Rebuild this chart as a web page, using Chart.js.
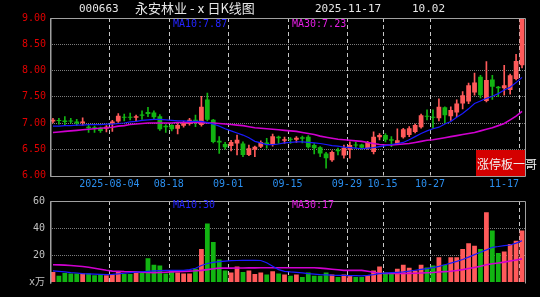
<!DOCTYPE html>
<html>
<head>
<meta charset="utf-8">
<script src="https://cdn.jsdelivr.net/npm/chart.js@4.4.0/dist/chart.umd.min.js"></script>
<style>
	html, body { margin: 0; padding: 0; background: #000; width: 540px; height: 297px; overflow: hidden; }
	#wrap { position: relative; width: 540px; height: 297px; }
	canvas { position: absolute; left: 0; }
	.t { position: absolute; white-space: nowrap; line-height: 14px; height: 14px; }
	.mono { font-family: "DejaVu Sans Mono", monospace; }
	.cjk { font-family: "Noto Sans CJK SC", sans-serif; }
</style>
</head>
<body>
<div id="wrap">
	<canvas id="kChart" width="540" height="190" style="top:0"></canvas>
	<canvas id="volChart" width="540" height="107" style="top:190px"></canvas>

	<div class="t mono" style="left:79px;top:2px;font-size:11px;color:#e6e6e6">000663</div>
	<div class="t cjk" style="left:135px;top:1px;font-size:13px;color:#e6e6e6">永安林业 -ⅹ日K线图</div>
	<div class="t mono" style="left:315px;top:2px;font-size:11px;color:#e6e6e6">2025-11-17</div>
	<div class="t mono" style="left:412px;top:2px;font-size:11px;color:#e6e6e6">10.02</div>

	<div class="t mono" style="left:173px;top:17px;font-size:10px;color:#2424ff">MA10:7.87</div>
	<div class="t mono" style="left:292px;top:17px;font-size:10px;color:#e61ee6">MA30:7.23</div>
	<div class="t mono" style="left:173px;top:198px;font-size:10px;color:#2424ff">MA10:30</div>
	<div class="t mono" style="left:292px;top:198px;font-size:10px;color:#e61ee6">MA30:17</div>

	<div style="position:absolute;left:476px;top:150px;width:49px;height:26px;background:#d40000"></div>
	<div class="t cjk" style="left:477px;top:157px;font-size:12px;color:#f0f0f0">涨停板一哥</div>
</div>

<script>
// data
const dates = [
	'2025-07-21','2025-07-22','2025-07-23','2025-07-24','2025-07-25','2025-07-28','2025-07-29','2025-07-30','2025-07-31','2025-08-01',
	'2025-08-04','2025-08-05','2025-08-06','2025-08-07','2025-08-08','2025-08-11','2025-08-12','2025-08-13','2025-08-14','2025-08-15',
	'2025-08-18','2025-08-19','2025-08-20','2025-08-21','2025-08-22','2025-08-25','2025-08-26','2025-08-27','2025-08-28','2025-08-29',
	'2025-09-01','2025-09-02','2025-09-03','2025-09-04','2025-09-05','2025-09-08','2025-09-09','2025-09-10','2025-09-11','2025-09-12',
	'2025-09-15','2025-09-16','2025-09-17','2025-09-18','2025-09-19','2025-09-22','2025-09-23','2025-09-24','2025-09-25','2025-09-26',
	'2025-09-29','2025-09-30','2025-10-09','2025-10-10','2025-10-13','2025-10-14','2025-10-15','2025-10-16','2025-10-17','2025-10-20',
	'2025-10-21','2025-10-22','2025-10-23','2025-10-24','2025-10-27','2025-10-28','2025-10-29','2025-10-30','2025-10-31','2025-11-03',
	'2025-11-04','2025-11-05','2025-11-06','2025-11-07','2025-11-10','2025-11-11','2025-11-12','2025-11-13','2025-11-14','2025-11-17'
];
const dateTicks = ['2025-08-04', '08-18', '09-01', '09-15', '09-29', '10-15', '10-27', '11-17'];

const opens = [
	7.03, 7.05, 7.05, 7.05, 7.03, 7.00, 6.93, 6.92, 6.91, 6.89,
	6.99, 7.03, 7.12, 7.12, 7.10, 7.16, 7.21, 7.20, 7.13, 6.95,
	6.96, 6.89, 6.95, 6.98, 7.06, 6.96, 7.45, 7.06, 6.66, 6.60,
	6.56, 6.61, 6.61, 6.39, 6.49, 6.55, 6.63, 6.58, 6.74, 6.66,
	6.70, 6.68, 6.73, 6.74, 6.58, 6.54, 6.42, 6.29, 6.49, 6.38,
	6.49, 6.59, 6.59, 6.52, 6.45, 6.73, 6.77, 6.69, 6.61, 6.73,
	6.77, 6.83, 6.92, 7.14, 7.12, 7.09, 7.30, 7.13, 7.20, 7.37,
	7.41, 7.58, 7.88, 7.42, 7.83, 7.69, 7.66, 7.63, 7.84, 8.10
];
const highs = [
	7.09, 7.09, 7.12, 7.09, 7.07, 7.10, 6.96, 6.94, 6.92, 6.95,
	7.05, 7.18, 7.17, 7.19, 7.15, 7.23, 7.30, 7.23, 7.16, 6.97,
	6.97, 6.99, 7.03, 7.09, 7.15, 7.51, 7.57, 7.07, 6.74, 6.63,
	6.67, 6.77, 6.64, 6.58, 6.56, 6.66, 6.71, 6.79, 6.75, 6.73,
	6.72, 6.74, 6.75, 6.76, 6.61, 6.55, 6.44, 6.47, 6.52, 6.58,
	6.64, 6.63, 6.60, 6.65, 6.83, 6.80, 6.80, 6.74, 6.89, 6.90,
	6.93, 6.98, 7.17, 7.25, 7.25, 7.46, 7.31, 7.31, 7.44, 7.60,
	7.76, 7.95, 7.91, 8.17, 7.91, 7.70, 8.10, 7.93, 8.31, 9.00
];
const lows = [
	7.00, 6.98, 6.96, 7.00, 6.95, 6.96, 6.82, 6.82, 6.82, 6.83,
	6.84, 7.01, 7.04, 7.06, 7.04, 7.07, 7.12, 7.07, 6.86, 6.82,
	6.85, 6.79, 6.92, 6.96, 6.93, 6.94, 7.04, 6.62, 6.42, 6.50,
	6.47, 6.39, 6.36, 6.38, 6.36, 6.53, 6.52, 6.56, 6.61, 6.61,
	6.61, 6.63, 6.62, 6.52, 6.41, 6.36, 6.14, 6.27, 6.39, 6.33,
	6.33, 6.52, 6.50, 6.50, 6.41, 6.68, 6.64, 6.55, 6.60, 6.71,
	6.74, 6.81, 6.90, 7.06, 6.90, 7.04, 7.00, 7.05, 7.12, 7.27,
	7.37, 7.53, 7.48, 7.40, 7.45, 7.50, 7.53, 7.55, 7.82, 8.05
];
const closes = [
	7.06, 7.04, 7.02, 7.03, 6.99, 7.03, 6.90, 6.90, 6.85, 6.93,
	7.03, 7.14, 7.10, 7.10, 7.13, 7.14, 7.17, 7.11, 6.88, 6.92,
	6.88, 6.96, 7.00, 7.06, 7.00, 7.31, 7.06, 6.64, 6.63, 6.54,
	6.64, 6.68, 6.39, 6.52, 6.55, 6.64, 6.60, 6.75, 6.71, 6.69,
	6.68, 6.72, 6.70, 6.54, 6.52, 6.42, 6.33, 6.45, 6.46, 6.53,
	6.58, 6.57, 6.53, 6.64, 6.74, 6.77, 6.68, 6.66, 6.67, 6.88,
	6.90, 6.96, 7.15, 7.12, 7.10, 7.31, 7.15, 7.25, 7.37, 7.53,
	7.72, 7.77, 7.53, 7.82, 7.69, 7.66, 7.72, 7.91, 8.18, 9.00
];
const ma10 = [
	6.94, 6.94, 6.95, 6.95, 6.96, 6.96, 6.97, 6.97, 6.97, 6.98,
	6.98, 6.99, 7.00, 7.02, 7.03, 7.05, 7.06, 7.07, 7.07, 7.06,
	7.05, 7.04, 7.04, 7.03, 7.03, 7.03, 7.01, 6.98, 6.94, 6.89,
	6.85, 6.81, 6.77, 6.72, 6.65, 6.62, 6.59, 6.59, 6.60, 6.62,
	6.63, 6.64, 6.64, 6.63, 6.62, 6.61, 6.59, 6.57, 6.56, 6.54,
	6.53, 6.52, 6.51, 6.52, 6.53, 6.55, 6.57, 6.59, 6.61, 6.63,
	6.68, 6.74, 6.80, 6.85, 6.89, 6.92, 6.98, 7.03, 7.11, 7.18,
	7.27, 7.37, 7.42, 7.47, 7.51, 7.56, 7.63, 7.68, 7.77, 7.87
];
const ma30 = [
	6.82, 6.83, 6.84, 6.85, 6.86, 6.87, 6.88, 6.89, 6.90, 6.91,
	6.92, 6.94, 6.95, 6.97, 6.98, 6.99, 7.00, 7.00, 7.00, 7.00,
	7.00, 7.01, 7.01, 7.01, 7.01, 7.01, 7.00, 7.00, 6.99, 6.98,
	6.97, 6.96, 6.95, 6.93, 6.91, 6.90, 6.89, 6.88, 6.87, 6.86,
	6.85, 6.84, 6.82, 6.80, 6.78, 6.75, 6.73, 6.71, 6.69, 6.68,
	6.67, 6.66, 6.65, 6.63, 6.61, 6.59, 6.58, 6.58, 6.59, 6.60,
	6.61, 6.63, 6.65, 6.67, 6.68, 6.70, 6.72, 6.74, 6.76, 6.78,
	6.80, 6.82, 6.85, 6.88, 6.91, 6.95, 6.99, 7.06, 7.13, 7.22
];
const volumes = [
	7.8, 4.9, 7.0, 6.6, 6.6, 6.6, 6.6, 5.3, 5.8, 5.3,
	5.8, 8.2, 6.2, 6.2, 7.3, 7.3, 17.9, 13.1, 12.5, 6.7,
	8.9, 7.3, 6.6, 6.6, 10.2, 24.6, 43.4, 29.9, 16.9, 8.9,
	7.3, 11.8, 7.8, 8.9, 6.2, 7.3, 5.8, 8.2, 6.6, 5.8,
	4.9, 5.8, 4.1, 7.3, 4.9, 4.9, 7.3, 5.8, 4.1, 5.8,
	5.3, 4.1, 4.1, 5.3, 8.9, 11.8, 7.3, 6.6, 10.2, 13.1,
	10.9, 8.9, 13.1, 11.1, 12.5, 18.6, 13.1, 18.6, 18.6, 24.6,
	28.9, 27.0, 24.6, 51.8, 38.3, 21.8, 22.8, 28.4, 30.8, 38.3
];
const volMa10 = [
	8.5, 8.2, 7.8, 7.3, 7.0, 6.6, 6.4, 6.2, 6.0, 5.8,
	6.0, 6.4, 6.8, 7.3, 7.6, 7.9, 8.2, 8.5, 8.7, 8.9,
	8.9, 8.9, 8.9, 9.5, 10.5, 12.5, 14.0, 14.8, 15.4, 15.8,
	16.1, 16.2, 16.3, 16.3, 16.3, 16.2, 14.5, 12.0, 9.5, 8.2,
	7.8, 7.5, 7.1, 6.6, 6.2, 5.8, 5.6, 5.4, 5.3, 5.2,
	5.1, 5.0, 4.9, 5.2, 5.8, 6.6, 6.9, 7.2, 7.5, 7.8,
	8.4, 9.0, 9.6, 10.2, 10.9, 11.9, 13.1, 14.3, 15.5, 16.9,
	18.7, 20.5, 22.3, 24.0, 25.9, 26.5, 27.2, 27.6, 29.0, 30.7
];
const volMa30 = [
	13.1, 13.0, 12.8, 12.5, 12.2, 11.8, 11.2, 10.5, 9.8, 9.0,
	8.4, 8.2, 8.0, 7.9, 7.8, 7.6, 7.4, 7.3, 7.4, 7.6,
	7.8, 8.0, 8.2, 8.4, 8.6, 8.9, 9.5, 10.1, 10.6, 10.6,
	10.6, 10.7, 10.7, 10.8, 10.8, 10.9, 10.9, 10.9, 10.9, 10.9,
	10.9, 10.9, 10.9, 10.9, 10.9, 10.6, 10.2, 9.8, 9.4, 8.9,
	8.9, 8.9, 8.9, 8.3, 7.6, 6.8, 6.6, 6.6, 6.6, 6.6,
	6.7, 6.8, 7.0, 7.2, 7.4, 7.7, 8.0, 8.3, 8.8, 9.5,
	10.3, 11.1, 12.0, 13.1, 13.8, 14.4, 15.0, 15.8, 16.6, 17.4
];

const UP = '#ff5a5a';
const DOWN = '#12b412';
const candleColors = closes.map((c, i) => (c >= opens[i] ? UP : DOWN));
const markIdx = dateTicks.map((t) => dates.findIndex((d) => d.endsWith(t)));

// helpers
function slotLeft(chart, i) {
	const x = chart.scales.x;
	return x.getPixelForValue(i) - (x.getPixelForValue(1) - x.getPixelForValue(0)) / 2;
}

const panelPlugin = {
	id: 'panel',
	beforeDatasetsDraw(chart, args, opts) {
		const { ctx, chartArea: a } = chart;
		ctx.save();
		ctx.strokeStyle = '#c8c8c8';
		ctx.lineWidth = 1;
		ctx.setLineDash([4, 3]);
		markIdx.forEach((i) => {
			const x = Math.round(slotLeft(chart, i)) + 0.5;
			ctx.beginPath();
			ctx.moveTo(x, a.top);
			ctx.lineTo(x, a.bottom);
			ctx.stroke();
		});
		ctx.restore();
	},
	afterDraw(chart, args, opts) {
		const { ctx, chartArea: a } = chart;
		ctx.save();
		ctx.strokeStyle = '#a0a0a0';
		ctx.lineWidth = 1;
		const l = Math.round(a.left) + 0.5, r = Math.round(a.right) + 0.5;
		const t = Math.round(a.top) + 0.5, b = Math.round(a.bottom) + 0.5;
		ctx.beginPath();
		if (opts.closed) {
			ctx.rect(l, t, r - l, b - t);
		} else {
			ctx.moveTo(l, b); ctx.lineTo(l, t); ctx.lineTo(r, t); ctx.lineTo(r, b);
		}
		ctx.stroke();
		ctx.fillStyle = '#a0a0a0';
		ctx.fillRect(l - 0.5, t, 1.5, b - t);

		if (opts.dates) {
			ctx.font = '10px "DejaVu Sans Mono", monospace';
			ctx.fillStyle = '#2b8fef';
			ctx.textAlign = 'center';
			ctx.textBaseline = 'middle';
			markIdx.forEach((i, k) => {
				const txt = dateTicks[k];
				const w = ctx.measureText(txt).width;
				const x = Math.min(slotLeft(chart, i), a.right - 6 - w / 2);
				ctx.fillText(txt, x, a.bottom + 9);
			});
		}
		ctx.restore();
	},
};

const monoFont = { family: '"DejaVu Sans Mono", "Noto Sans CJK SC", monospace', size: 10 };

// price chart
new Chart(document.getElementById('kChart'), {
	type: 'bar',
	data: {
		labels: dates,
		datasets: [
			{ type: 'line', data: ma10, borderColor: '#1a1aff', borderWidth: 1.2, pointRadius: 0, tension: 0 },
			{ type: 'line', data: ma30, borderColor: '#d000d0', borderWidth: 1.6, pointRadius: 0, tension: 0 },
			{
				data: opens.map((o, i) => [o, closes[i]]),
				backgroundColor: candleColors,
				barPercentage: 0.8,
				categoryPercentage: 1,
				grouped: false,
				minBarLength: 1,
			},
			{
				data: lows.map((l, i) => [l, highs[i]]),
				backgroundColor: candleColors,
				barThickness: 1,
				grouped: false,
			},
		],
	},
	options: {
		responsive: false,
		animation: false,
		layout: { padding: { top: 18, right: 15, bottom: 14.5, left: 0 } },
		plugins: { legend: { display: false }, tooltip: { enabled: false }, panel: { closed: true, dates: true } },
		scales: {
			x: { display: false, offset: true },
			y: {
				min: 6,
				max: 9,
				afterFit: (s) => { s.width = 50; },
				ticks: { stepSize: 0.5, color: '#e00000', font: monoFont, padding: 4, callback: (v) => v.toFixed(2) },
				grid: {
					drawTicks: false,
					lineWidth: 1,
					color: (c) => (c.tick && (c.tick.value === 6 || c.tick.value === 9) ? 'rgba(0,0,0,0)' : '#7c7c7c'),
				},
				border: { display: false, dash: [1, 1] },
			},
		},
	},
	plugins: [panelPlugin],
});

// volume chart
new Chart(document.getElementById('volChart'), {
	type: 'bar',
	data: {
		labels: dates,
		datasets: [
			{ type: 'line', data: volMa10, borderColor: '#1a1aff', borderWidth: 1.2, pointRadius: 0, tension: 0 },
			{ type: 'line', data: volMa30, borderColor: '#d000d0', borderWidth: 1.6, pointRadius: 0, tension: 0 },
			{ data: volumes, backgroundColor: candleColors, barPercentage: 0.8, categoryPercentage: 1 },
		],
	},
	options: {
		responsive: false,
		animation: false,
		layout: { padding: { top: 9.3, right: 15, bottom: 14.5, left: 0 } },
		plugins: { legend: { display: false }, tooltip: { enabled: false }, panel: { closed: false, dates: false } },
		scales: {
			x: { display: false, offset: true },
			y: {
				min: 0,
				max: 60,
				afterFit: (s) => { s.width = 50; },
				ticks: { stepSize: 20, color: '#c0c0c0', font: monoFont, padding: 5, callback: (v) => (v === 0 ? 'x万' : v) },
				grid: {
					drawTicks: false,
					lineWidth: 1,
					color: (c) => (c.tick && (c.tick.value === 0 || c.tick.value === 60) ? 'rgba(0,0,0,0)' : '#7c7c7c'),
				},
				border: { display: false, dash: [1, 1] },
			},
		},
	},
	plugins: [panelPlugin],
});
</script>
</body>
</html>
